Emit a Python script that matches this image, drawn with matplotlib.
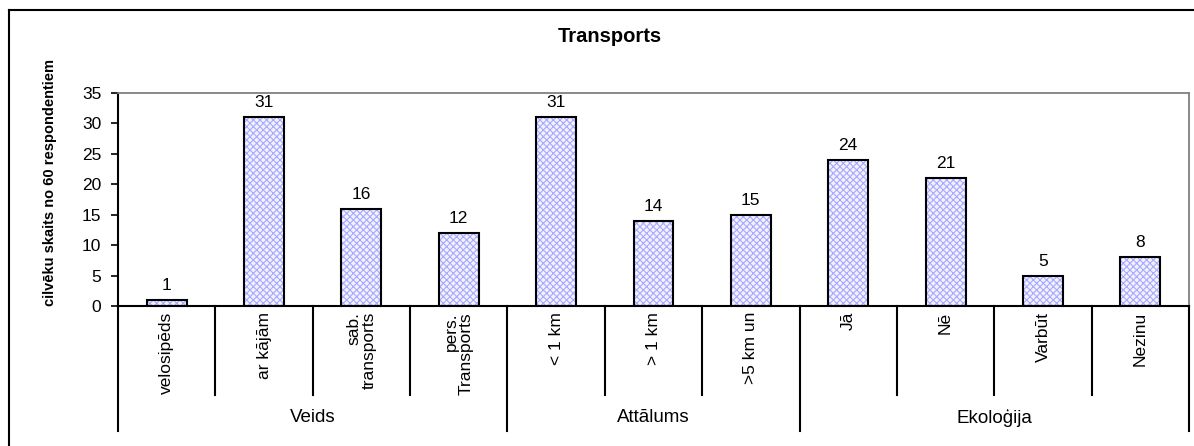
import matplotlib

matplotlib.use("Agg")

import matplotlib.pyplot as plt
from matplotlib import font_manager
from matplotlib.lines import Line2D
import numpy as np

# data
categories = [
    "velosipēds", "ar kājām", "sab.\ntransports", "pers.\nTransports",
    "< 1 km", "> 1 km", ">5 km un",
    "Jā", "Nē", "Varbūt", "Nezinu",
]
values = [1, 31, 16, 12, 31, 14, 15, 24, 21, 5, 8]
groups = ["Veids", "Attālums", "Ekoloģija"]
group_sizes = [4, 3, 4]
y_ticks = [0, 5, 10, 15, 20, 25, 30, 35]

W, H = 1194, 446
plt.rcParams["font.family"] = ["Liberation Sans", "DejaVu Sans"]
plt.rcParams["hatch.linewidth"] = 0.8

installed = {f.name for f in font_manager.fontManager.ttflist}
narrow = "Liberation Sans Narrow" if "Liberation Sans Narrow" in installed else "Liberation Sans"

fig = plt.figure(figsize=(W / 100, H / 100), dpi=100)
fig.patch.set_facecolor("white")

# plot area in pixel terms
left, right, top, bottom = 118, 1189, 93, 306
ax = fig.add_axes([left / W, 1 - bottom / H, (right - left) / W, (bottom - top) / H])

x = np.arange(len(categories))
bar_w = 0.41
ax.bar(x, values, width=bar_w, color="#f2f2ff", edgecolor="#a8a8ff",
       hatch="xxxxx", linewidth=0.01, zorder=2)
ax.bar(x, values, width=bar_w, fill=False, edgecolor="black", linewidth=1.5, zorder=3)

for xi, v in zip(x, values):
    ax.annotate(str(v), (xi, v), xytext=(0, 5), textcoords="offset points",
                ha="center", va="bottom", fontsize=12.5)

ax.set_xlim(-0.5, len(categories) - 0.5)
ax.set_ylim(0, 35)
ax.set_yticks(y_ticks)
ax.tick_params(axis="y", direction="out", length=5, width=1.2, labelsize=12.5, pad=7)
ax.set_xticks([])

for side in ("top", "right"):
    ax.spines[side].set_color("#808080")
    ax.spines[side].set_linewidth(1.3)
for side in ("left", "bottom"):
    ax.spines[side].set_color("black")
    ax.spines[side].set_linewidth(1.5)

# category labels and divider lines below the axis
h_px = bottom - top
def ay(py):
    return -(py - bottom) / h_px

trans = ax.get_xaxis_transform()
for xi, lab in zip(x, categories):
    ax.text(xi, ay(312), lab, rotation=90, ha="center", va="top",
            multialignment="right", fontsize=12.5, linespacing=1.05,
            transform=trans)

bounds = np.concatenate([[0], np.cumsum(group_sizes)])
for b in range(len(categories) + 1):
    low = ay(431) if b in bounds else ay(395)
    ax.add_line(Line2D([b - 0.5, b - 0.5], [0, low], color="black", lw=1.5,
                       transform=trans, clip_on=False))

for g, start, size in zip(groups, bounds[:-1], group_sizes):
    ax.text(start - 0.5 + size / 2, ay(418), g, ha="center", va="center",
            fontsize=13.5, transform=trans)

fig.text(610 / W, 1 - 37 / H, "Transports", ha="center", va="center",
         fontsize=14.5, fontweight="bold")
fig.text(50 / W, 1 - 183 / H, "cilvēku skaits no 60 respondentiem", rotation=90,
         ha="center", va="center", fontsize=10.5, fontweight="bold",
         family=[narrow, "DejaVu Sans"])

# outer chart frame (cut off at right and bottom)
fig.add_artist(Line2D([9 / W, 1.0], [1 - 10 / H, 1 - 10 / H], color="black",
                      lw=1.5, transform=fig.transFigure))
fig.add_artist(Line2D([9 / W, 9 / W], [0, 1 - 10 / H], color="black",
                      lw=1.5, transform=fig.transFigure))

fig.savefig("out.png", dpi=100)
